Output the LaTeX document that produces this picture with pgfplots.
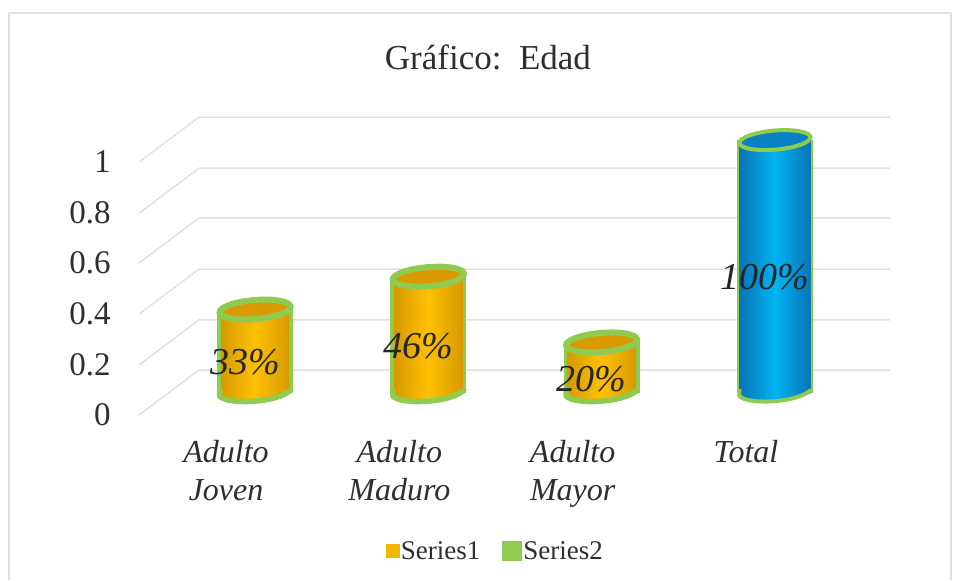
\documentclass[border=0pt]{standalone}
\usepackage{fontspec}
\setmainfont{Liberation Serif}
\usepackage{pgfplots}
\pgfplotsset{compat=1.18}
\definecolor{gridc}{HTML}{E0E0E0}
\definecolor{framec}{HTML}{E0E0E0}
\definecolor{rimc}{HTML}{8FCB50}
\definecolor{txtc}{HTML}{2E2E2E}
\definecolor{orC}{HTML}{FFC000}
\definecolor{orS}{HTML}{D69A00}
\definecolor{orT}{HTML}{D99A00}
\definecolor{blC}{HTML}{00B4F4}
\definecolor{blS}{HTML}{0A74B4}
\definecolor{blT}{HTML}{0A80C4}
% Tilted ellipse used for the cylinder tops
\pgfdeclareplotmark{cap}{%
  \pgfpathellipse{\pgfpointorigin}{\pgfqpoint{35.5pt}{3pt}}{\pgfqpoint{-0.9pt}{9.5pt}}%
  \pgfusepathqfillstroke}
% Open lower edge of a cylinder, shaded like its wall
\newcommand{\cylbase}[3]{%
  \path[draw=rimc, line width=#1, line join=round, left color=#2, right color=#2, middle color=#3]
    (-35.5pt,4pt) -- (-35.5pt,-3pt)
    .. controls (-28pt,-12pt) and (23pt,-10pt) .. (35.5pt,3pt) -- (35.5pt,4pt);}
\pgfdeclareplotmark{base or}{\cylbase{5.5pt}{orS}{orC}}
\pgfdeclareplotmark{base bl}{\cylbase{4pt}{blS}{blC}}
\pgfplotsset{
  back wall/.style={draw=gridc, line width=1.5pt, forget plot},
  cyl rim/.style={ybar, bar width=#1, bar shift=0pt, draw=none, fill=rimc, forget plot},
  cyl body/.style n args={3}{ybar, bar width=#1, bar shift=0pt, draw=none,
    left color=#2, right color=#2, middle color=#3, forget plot},
  cyl cap/.style 2 args={only marks, mark=cap, forget plot,
    mark options={draw=rimc, fill=#1, line width=#2}},
}
\begin{document}
\begin{tikzpicture}
\begin{axis}[
  scale only axis, width=957pt, height=580pt,
  xmin=-1.4712, xmax=4.05, ymin=-0.7391, ymax=1.5534,
  clip=false,
  axis line style={draw=none},
  major tick length=0pt,
  title={Gráfico:\hspace{0.5em}Edad},
  title style={at={(axis cs:1.344,1.304)}, anchor=center, text=txtc,
    font=\fontsize{35}{40}\selectfont},
  xtick={0,1,2,3},
  xticklabels={{Adulto\\Joven},{Adulto\\Maduro},{Adulto\\Mayor},{Total}},
  xticklabel style={align=center, anchor=north, xshift=-29pt, yshift=143pt,
    text=txtc, font=\fontsize{32}{38}\selectfont\itshape},
  ytick={0,0.2,0.4,0.6,0.8,1},
  yticklabels={0,0.2,0.4,0.6,0.8,1},
  yticklabel style={anchor=east, xshift=114pt, yshift=-22pt,
    text=txtc, font=\fontsize{33}{38}\selectfont},
  legend style={at={(axis cs:1.387,-0.625)}, anchor=center, draw=none, fill=none,
    font=\fontsize{27}{30}\selectfont, text=txtc, legend columns=2,
    /tikz/every even column/.append style={column sep=20pt}},
  legend cell align=left,
]
% Chart frame, running off the lower edge of the page
\draw[framec, line width=1.5pt] (axis cs:-1.419,-0.7391) -- (axis cs:-1.419,1.502)
  -- (axis cs:4.017,1.502) -- (axis cs:4.017,-0.7391);

% Back wall and side wall gridlines
\addplot[back wall] coordinates {(-0.669,-0.087) (-0.323,0.091) (3.664,0.091)};
\addplot[back wall] coordinates {(-0.669,0.111) (-0.323,0.289) (3.664,0.289)};
\addplot[back wall] coordinates {(-0.669,0.312) (-0.323,0.490) (3.664,0.490)};
\addplot[back wall] coordinates {(-0.669,0.514) (-0.323,0.692) (3.664,0.692)};
\addplot[back wall] coordinates {(-0.669,0.711) (-0.323,0.889) (3.664,0.889)};
\addplot[back wall] coordinates {(-0.669,0.913) (-0.323,1.091) (3.664,1.091)};

% Cylinder walls
\addplot[cyl rim=76pt] coordinates {(0,0.33)};
\addplot[cyl rim=76pt] coordinates {(1,0.46)};
\addplot[cyl rim=76pt] coordinates {(2,0.20)};
\addplot[cyl rim=76pt] coordinates {(3,1)};
\addplot[cyl body={68pt}{orS}{orC}] coordinates {(0,0.33)};
\addplot[cyl body={68pt}{orS}{orC}] coordinates {(1,0.46)};
\addplot[cyl body={68pt}{orS}{orC}] coordinates {(2,0.20)};
\addplot[cyl body={71pt}{blS}{blC}] coordinates {(3,1)};

% Cylinder bases
\addplot[only marks, mark=base or, forget plot] coordinates {(0,0) (1,0) (2,0)};
\addplot[only marks, mark=base bl, forget plot] coordinates {(3,0)};

% Cylinder tops
\addplot[cyl cap={orT}{6pt}] coordinates {(0,0.33) (1,0.46) (2,0.20)};
\addplot[cyl cap={blT}{4pt}] coordinates {(3,1)};

% Percentage labels, halfway up each cylinder
\addplot[only marks, mark=none, forget plot,
  point meta=explicit,
  nodes near coords={\pgfmathprintnumber[fixed, precision=0, assume math mode=true]{\pgfplotspointmeta}\%},
  every node near coord/.style={anchor=center, xshift=-10pt, yshift=-11pt,
    text=black!85, font=\fontsize{38}{42}\selectfont\itshape},
] table[x=x, y expr=\thisrow{v}/2, meta expr=\thisrow{v}*100] {
x v
0 0.33
1 0.46
2 0.20
3 1
};

\addlegendimage{only marks, mark=square*, mark size=6.5pt, mark options={fill=orC!95!black, draw=orC!95!black}}
\addlegendentry{Series1}
\addlegendimage{only marks, mark=square*, mark size=9.5pt, mark options={fill=rimc, draw=rimc}}
\addlegendentry{Series2}
\end{axis}
\end{tikzpicture}
\end{document}
